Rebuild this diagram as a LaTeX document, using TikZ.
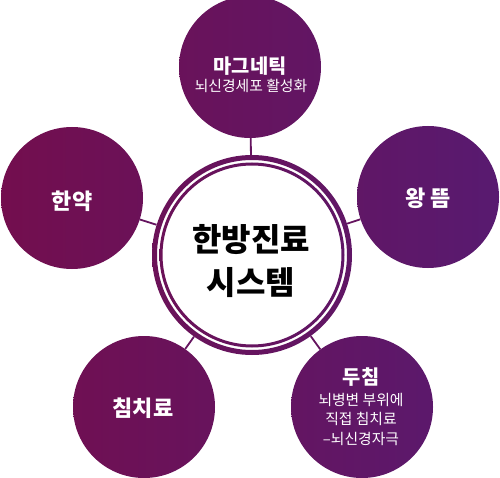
\documentclass[tikz,border=0pt]{standalone}
\usepackage{fontspec}
\newfontfamily\kr{Noto Sans CJK KR}
\definecolor{cA}{RGB}{115,14,78}
\definecolor{cB}{RGB}{88,26,112}
\tikzset{
 bub/.style={circle, minimum size=142pt, inner sep=0pt},
 conn/.style={draw=cA!50!cB, line width=1.8pt},
 bigtxt/.style={text=white, font=\kr\bfseries\fontsize{22}{26}\selectfont, align=center, inner sep=0pt},
 midtxt/.style={text=white, font=\kr\bfseries\fontsize{19.8}{24}\selectfont, align=center, inner sep=0pt},
 smalltxt/.style={text=white, font=\kr\fontsize{14.8}{19.5}\selectfont, align=center, inner sep=0pt},
 coretxt/.style={text=black, font=\kr\bfseries\fontsize{32}{43}\selectfont, align=center, inner sep=0pt},
}
\begin{document}
\begin{tikzpicture}[x=1pt,y=-1pt]
\useasboundingbox (0,0) rectangle (500,478);
\node[circle, minimum size=200pt, inner sep=0pt] (core) at (252,255) {};
\node[bub, left color=cA!64!cB, right color=cA!36!cB] (mag) at (250,67) {};
\node[bub, left color=cA!29!cB, right color=cA!0!cB] (wang) at (428,197) {};
\node[bub, left color=cA!100!cB, right color=cA!71!cB] (hanyak) at (72,198) {};
\node[bub, left color=cA!85!cB, right color=cA!57!cB] (chim) at (144,407) {};
\node[bub, left color=cA!42!cB, right color=cA!13!cB] (duchim) at (362,407) {};
\shade[left color=cA!70!cB, right color=cA!30!cB, even odd rule] (core.center) circle[radius=100pt] circle[radius=95pt];
\shade[left color=cA!70!cB, right color=cA!30!cB, even odd rule] (core.center) circle[radius=92.5pt] circle[radius=89.5pt];
\draw[conn] (core) -- (mag);
\draw[conn] (core) -- (wang);
\draw[conn] (core) -- (hanyak);
\draw[conn] (core) -- (chim);
\draw[conn] (core) -- (duchim);
\node[coretxt] (coret) at (251,261) {한방진료\\시스템};
\node[midtxt] (magt) at (250,66) {마그네틱};
\node[smalltxt] (magd) at (251,86) {뇌신경세포 활성화};
\node[bigtxt] (wangt) at (428,198) {왕 뜸};
\node[bigtxt] (hanyakt) at (72,201) {한약};
\node[bigtxt] (chimt) at (143,408) {침치료};
\node[midtxt] (duchimt) at (361,377) {두침};
\node[smalltxt] (duchimd) at (361,419) {뇌병변 부위에\\직접 침치료\\–뇌신경자극};
\end{tikzpicture}
\end{document}
